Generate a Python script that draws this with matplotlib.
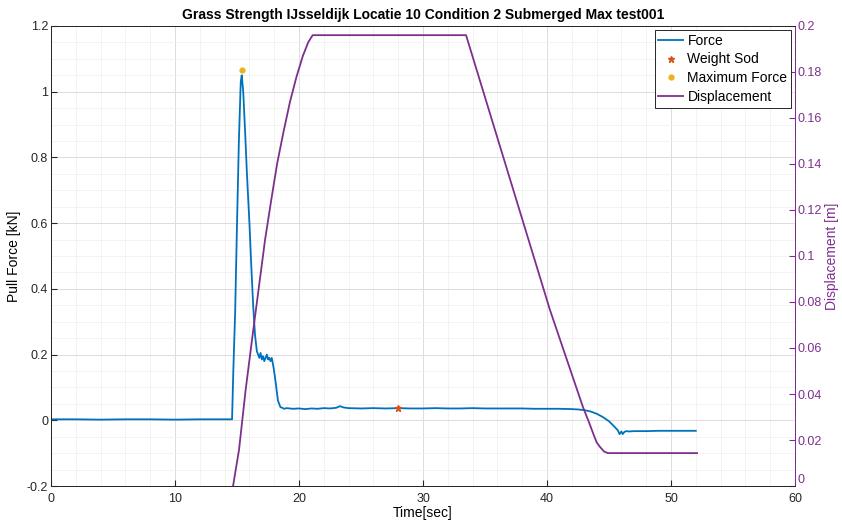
import numpy as np
import matplotlib.pyplot as plt
from matplotlib.ticker import MultipleLocator

plt.rcParams['font.family'] = ['Liberation Sans', 'DejaVu Sans']

# Force signal [s], [kN]
force_t = [0, 2, 4, 6, 8, 10, 12, 14, 14.6, 14.7, 14.85, 15.0, 15.15, 15.3, 15.38,
           15.5, 15.65, 15.8, 16.0, 16.15, 16.3, 16.45, 16.6, 16.7, 16.8, 16.9,
           17.0, 17.1, 17.2, 17.3, 17.4, 17.5, 17.6, 17.7, 17.8, 17.95, 18.1,
           18.3, 18.5, 18.65, 18.8, 19.0, 19.5, 20, 20.5, 21, 21.5, 22, 22.5,
           23, 23.3, 23.6, 24, 25, 26, 27, 28, 29, 30, 31, 32, 33, 34, 35, 36,
           37, 38, 39, 40, 41, 42, 42.5, 43, 43.5, 44, 44.5, 45, 45.4, 45.7,
           45.85, 46.0, 46.1, 46.25, 46.4, 46.6, 47, 48, 49, 50, 51, 52]
force_v = [0.003, 0.003, 0.002, 0.003, 0.003, 0.002, 0.003, 0.003, 0.003, 0.15,
           0.33, 0.6, 0.85, 1.03, 1.05, 1.0, 0.88, 0.75, 0.6, 0.47, 0.35, 0.26,
           0.21, 0.2, 0.19, 0.205, 0.185, 0.195, 0.18, 0.19, 0.2, 0.185, 0.19,
           0.18, 0.19, 0.16, 0.12, 0.06, 0.04, 0.038, 0.035, 0.037, 0.035, 0.036,
           0.034, 0.036, 0.035, 0.037, 0.036, 0.038, 0.043, 0.039, 0.037, 0.036,
           0.037, 0.036, 0.037, 0.036, 0.036, 0.037, 0.036, 0.036, 0.037, 0.036,
           0.036, 0.036, 0.036, 0.035, 0.035, 0.035, 0.034, 0.033, 0.031, 0.027,
           0.02, 0.01, -0.003, -0.018, -0.03, -0.042, -0.034, -0.042, -0.035,
           -0.033, -0.034, -0.033, -0.033, -0.032, -0.032, -0.032, -0.032]

# Markers
sod_t, sod_v = [28.0], [0.038]
max_t, max_v = [15.42], [1.066]

# Displacement [s], [m]
disp_t = [14.68, 15.16, 15.7, 16.29, 16.8, 17.26, 17.75, 18.23, 18.75, 19.27,
          19.8, 20.31, 20.75, 21.1, 33.47, 40.24, 42.9, 43.4, 43.71, 44.0,
          44.27, 44.6, 44.92, 52.1]
disp_v = [0.0, 0.0157, 0.042, 0.067, 0.088, 0.107, 0.124, 0.140, 0.154, 0.167,
          0.178, 0.187, 0.193, 0.196, 0.196, 0.0765, 0.0343, 0.0275, 0.023,
          0.019, 0.017, 0.015, 0.0143, 0.0143]

blue = '#0072BD'
red = '#D95319'
yellow = '#EDB120'
purple = '#7E2F8E'

fig = plt.figure(figsize=(8.42, 5.30), dpi=100)
ax = fig.add_axes([0.0606, 0.083, 0.8836, 0.868])
ax2 = ax.twinx()

l1, = ax.plot(force_t, force_v, color=blue, lw=1.3, label='Force')
l2, = ax.plot(sod_t, sod_v, ls='none', marker='*', ms=5, color=red, label='Weight Sod')
l3, = ax.plot(max_t, max_v, ls='none', marker='o', ms=3.5, color=yellow, label='Maximum Force')
l4, = ax2.plot(disp_t, disp_v, color=purple, lw=1.3, label='Displacement')

ax.set_xlim(0, 60)
ax.set_ylim(-0.2, 1.2)
ax2.set_ylim(0, 0.2)
ax.xaxis.set_major_locator(MultipleLocator(10))
ax.xaxis.set_minor_locator(MultipleLocator(2))
ax.yaxis.set_minor_locator(MultipleLocator(0.05))
ax2.set_yticks([0, 0.02, 0.04, 0.06, 0.08, 0.1, 0.12, 0.14, 0.16, 0.18, 0.2],
               ['0', '0.02', '0.04', '0.06', '0.08', '0.1', '0.12', '0.14', '0.16', '0.18', '0.2'])
ax.set_yticks([-0.2, 0, 0.2, 0.4, 0.6, 0.8, 1.0, 1.2],
              ['-0.2', '0', '0.2', '0.4', '0.6', '0.8', '1', '1.2'])

ax.grid(True, which='major', color='#dcdcdc', lw=0.7)
ax.grid(True, which='minor', color='#efefef', lw=0.5)
ax.set_axisbelow(True)

for a in (ax, ax2):
    a.tick_params(labelsize=9, direction='in', length=4, colors='#262626', pad=2)
    a.tick_params(which='minor', length=0)
    for s in a.spines.values():
        s.set_color('#262626')
        s.set_linewidth(0.7)
ax.tick_params(axis='x', pad=5)
ax2.tick_params(axis='y', colors=purple, pad=2)
ax2.spines['right'].set_color(purple)
# lift the bottom right label a little, as in the original
ax2.get_yticklabels()[0].set_verticalalignment('bottom')

ax.set_xlabel('Time[sec]', fontsize=10, labelpad=1)
ax.set_ylabel('Pull Force [kN]', fontsize=10, labelpad=4)
ax2.set_ylabel('Displacement [m]', fontsize=10, color=purple, labelpad=2)
ax.set_title('Grass Strength IJsseldijk Locatie 10 Condition 2 Submerged Max test001',
             fontsize=10, fontweight='bold', pad=5)

leg = ax2.legend(handles=[l1, l2, l3, l4], loc='upper right', fontsize=10,
                 fancybox=False, framealpha=1, edgecolor='#262626',
                 borderpad=0.25, labelspacing=0.35, handlelength=1.8,
                 handletextpad=0.3, borderaxespad=0.3)
leg.get_frame().set_linewidth(0.7)

fig.savefig('out.png', dpi=100)
